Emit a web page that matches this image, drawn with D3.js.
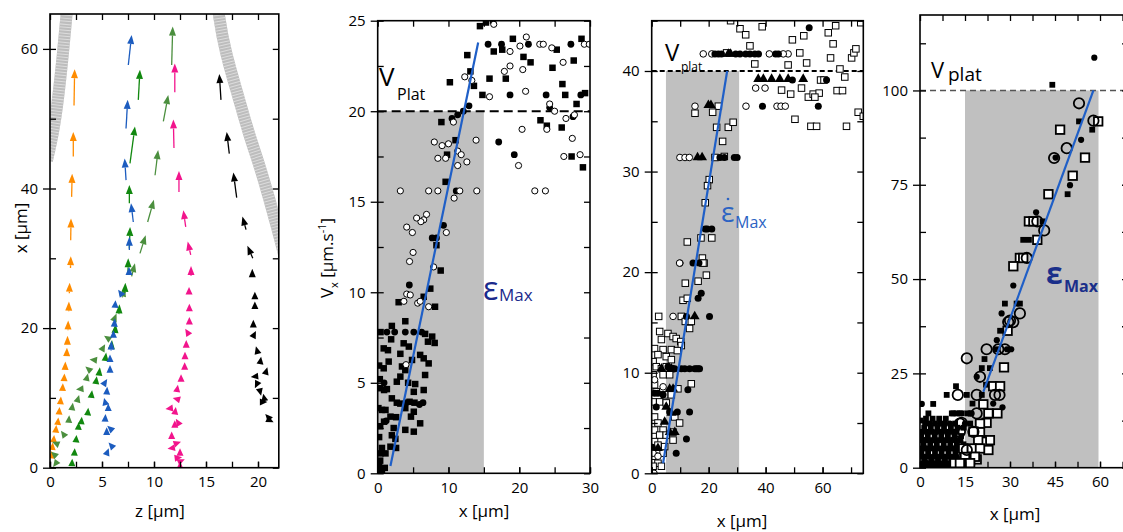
<!DOCTYPE html>
<html><head><meta charset="utf-8">
<script src="https://cdn.jsdelivr.net/npm/d3@7"></script>
<style>
body{margin:0;background:#fff;}
svg{display:block;font-family:"Open Sans",sans-serif;}
.tick text{font-size:15px;fill:#000;font-family:"Open Sans",sans-serif;}
.tick line{stroke:#000;stroke-width:1.3;}
</style></head><body>
<svg id="c" width="1123" height="532"></svg>
<script>
// ---------------- DATA ----------------
// Panel 1: cell trajectories, arrows [z, x, dz, dx]
const orangeArrows = [[2.31,51.9,0.06,5.2],[2.24,44.6,0.0,3.5],[2.08,38.8,0.05,3.3],[1.99,32.6,0.03,3.1],[1.97,28.6,0.03,1.7],[1.86,25.0,0.03,1.5],[1.8,22.4,0.02,1.4],[1.73,19.7,0.02,1.4],[1.67,17.6,0.02,1.3],[1.6,16.0,0.03,1.2],[1.45,14.0,0.03,1.2],[1.35,12.4,0.04,1.1],[1.2,11.0,0.04,1.1],[1.0,9.1,0.05,1.1],[0.87,7.7,0.05,1.0],[0.74,6.2,0.06,1.0],[0.55,5.1,0.06,1.0],[0.35,3.8,0.05,0.9],[0.22,2.7,0.05,0.9],[0.12,1.6,0.05,0.8]];
const darkGreenArrows = [[8.49,52.7,0.16,4.3],[7.69,43.6,0.48,5.3],[7.63,37.9,0.0,2.6],[7.63,31.4,0.07,3.1],[7.5,28.0,0.02,2.0],[7.2,25.0,0.05,1.5],[6.63,22.0,0.05,1.4],[6.25,19.3,0.06,1.3],[5.9,17.0,0.06,1.3],[5.3,15.3,0.1,1.2],[4.7,13.2,0.1,1.2],[4.4,12.0,0.1,1.1],[3.95,10.0,0.1,1.1],[3.62,7.5,0.06,1.1],[3.0,6.3,0.06,1.0],[2.72,5.5,0.05,1.0],[2.5,3.7,0.05,1.0],[2.34,1.8,0.04,1.0],[2.1,0.3,0.04,1.0]];
const lightGreenArrows = [[11.7,57.7,0.1,5.5],[10.9,49.6,0.47,3.8],[10.1,41.9,0.3,3.6],[9.39,35.2,0.6,3.2],[8.65,30.7,0.55,2.6],[7.85,27.4,0.32,1.9],[6.95,24.4,0.26,1.4],[6.1,21.0,0.3,1.1],[5.6,18.5,-0.4,0.4],[5.0,16.9,0.3,0.8],[4.4,15.4,-0.6,0.1],[3.8,14.0,-0.4,0.5],[3.5,12.6,0.15,0.9],[3.2,11.3,-0.7,-0.1],[2.6,9.4,0.2,1.0],[2.1,8.3,0.1,1.0],[1.8,6.5,0.05,1.0],[1.35,4.7,-0.3,0.6],[0.7,3.4,-0.5,0.3],[0.4,1.9,-0.3,0.4],[0.5,0.5,-0.2,-0.4]];
const blueArrows = [[7.53,57.7,0.32,4.3],[7.31,48.6,0.16,4.1],[7.31,41.2,-0.13,3.1],[8.01,35.2,-0.22,2.7],[7.63,31.2,0.0,1.9],[7.6,27.6,0.0,1.2],[6.9,24.8,-0.35,0.7],[6.25,22.9,0.05,1.1],[6.18,20.2,0.05,1.2],[6.1,18.6,0.0,1.1],[5.87,16.8,0.05,1.4],[5.77,15.2,0.0,1.0],[5.77,13.6,0.0,1.1],[5.2,12.0,0.3,0.7],[5.45,10.5,0.05,1.1],[5.3,9.4,-0.1,0.6],[5.6,8.2,0.0,1.0],[5.29,6.6,0.05,1.1],[5.8,5.6,-0.3,0.4],[5.45,4.7,0.0,1.1],[5.93,3.1,-0.3,0.5],[5.45,2.0,0.2,0.8]];
const pinkArrows = [[12.0,53.8,0.0,4.1],[11.92,45.8,-0.06,4.1],[12.4,39.5,0.0,3.0],[13.05,34.5,-0.23,2.4],[13.53,30.5,-0.29,1.9],[13.56,27.5,0.0,1.4],[13.37,24.9,0.0,1.0],[13.4,22.5,0.0,1.0],[13.4,20.6,0.0,1.0],[13.3,19.2,-0.3,0.7],[13.1,17.2,0.0,1.1],[12.98,15.6,0.0,1.0],[12.95,14.2,0.0,0.9],[12.6,12.5,0.0,0.9],[12.2,11.0,0.1,0.9],[12.3,9.8,-0.5,0.2],[11.6,8.5,-0.5,-0.1],[12.0,7.7,0.1,1.0],[12.3,6.5,-0.2,0.5],[12.0,5.9,0.0,0.9],[11.7,4.3,0.0,0.9],[12.2,3.5,0.4,0.2],[11.7,2.8,-0.4,-0.1],[12.5,2.1,0.0,0.7],[12.66,1.0,0.3,0.2],[12.5,0.2,0.0,0.7],[12.2,1.4,0.5,0.1]];
const blackArrows = [[16.44,52.7,-0.16,3.7],[17.24,45.0,-0.25,3.1],[17.95,38.7,-0.32,3.6],[18.85,34.1,-0.35,1.9],[19.5,30.0,-0.52,1.8],[19.45,27.3,0.0,1.2],[19.7,24.2,0.0,1.0],[19.7,22.8,0.0,1.0],[19.55,20.1,0.0,1.1],[19.6,19.0,0.2,0.6],[20.0,16.3,-0.2,1.1],[20.2,14.9,0.1,1.0],[20.7,13.4,0.2,1.0],[19.9,13.1,-0.6,-0.1],[19.9,12.0,-0.2,-0.6],[20.2,10.9,0.1,-0.6],[20.6,9.9,-0.1,0.7],[20.4,9.4,0.5,0.0],[21.0,7.2,-0.3,0.5],[21.1,6.8,0.4,-0.3]];
// gray channel walls [z, x]
const leftWall = [[1.7,67],[1.6,65],[1.28,59.8],[0.78,52.7],[0.3,47.9],[-0.3,44]];
const rightWall = [[16.1,67],[16.2,65],[16.8,59.8],[18.2,52.7],[19.1,47.9],[20.2,43.1],[21.1,38.4],[21.9,34.1],[22.6,30]];
const p1XTicks = [0,5,10,15,20];
const p1YTicks = [0,20,40,60];

// Panel 2
const p2FilledSq = [[14.45,24.7],[15.3,24.9],[16.3,25.0],[19.1,24.0],[12.66,23.1],[13.1,22.2],[10.2,21.6],[13.6,21.4],[14.8,20.9],[15.8,21.8],[18.1,21.8],[16.4,23.3],[17.6,23.4],[20.6,23.0],[21.6,22.7],[24.7,22.4],[25.3,23.4],[27.7,22.8],[26.1,21.5],[26.5,20.9],[28.1,20.4],[28.8,24.0],[29.3,21.0],[23.0,19.5],[23.9,19.2],[26.0,19.1],[27.4,17.5],[29.0,16.9],[9.0,19.4],[9.8,17.6],[11.0,18.4],[9.6,16.1],[8.3,12.6],
 [7.43,10.2],[2.96,9.45],[6.5,9.75],[8.1,9.2],[8.9,11.2],[2.0,8.14],[3.9,8.4],[6.7,7.7],[7.7,7.55],[7.1,7.27],[8.05,7.2],[0.85,6.9],[1.45,6.8],[3.67,7.18],[4.4,7.0],[6.0,6.54],[6.5,6.35],[7.2,6.07],[4.85,6.26],[1.55,6.17],[3.43,5.9],[3.9,5.7],[0.85,5.8],[6.7,5.43],[3.2,5.34],[2.7,5.06],[5.3,4.93],[6.5,4.6],[5.1,4.5],[0.37,4.7],[0.9,4.6],[1.3,4.65],[2.0,4.14],[2.7,3.9],[3.2,3.85],[4.5,3.95],[5.2,3.9],[0.1,3.6],[0.6,3.5],[1.1,3.5],[3.9,3.6],[5.1,3.4],[1.8,3.13],[2.6,3.1],[4.7,3.13],[6.0,2.76],[0.9,2.85],[0.35,2.6],[2.26,2.5],[3.9,2.4],[5.1,2.3],[2.0,2.1],[2.5,1.9],[1.8,1.47],[0.6,1.4],[2.6,1.4],[0.4,1.1],[1.1,1.1],[0.35,0.7],[0.6,0.1],[0.2,0.4],[1.0,0.3],[0.2,2.0],[0.3,5.2],[0.2,5.95],[4.3,5.0],[3.2,6.6],[1.9,7.4],[0.4,7.8]];
const p2FilledCirc = [[12.9,20.3],[12.1,20.0],[10.5,19.6],[11.3,19.8],[15.6,23.7],[17.5,23.7],[21.3,23.7],[27.3,23.7],[18.7,20.9],[23.8,20.9],[28.7,20.9],[24.3,20.2],[17.1,18.3],[19.3,17.6],[27.6,19.7],[11.1,15.6],[9.3,13.7],[7.7,13.0],[8.3,13.0],[4.47,10.4],[1.3,7.8],[2.4,7.8],[3.9,7.8],[5.1,7.8],[6.2,7.8],[5.9,3.8],[6.4,3.9],[0.9,5.0],[1.2,2.9],[4.0,3.9]];
const p2OpenCirc = [[16.4,24.8],[21.0,24.1],[20.1,23.6],[18.7,23.3],[22.9,23.7],[23.4,23.7],[24.6,23.5],[26.2,22.7],[29.2,23.7],[17.9,22.2],[18.7,22.5],[20.5,22.3],[20.9,21.1],[15.8,20.8],[13.3,21.7],[12.3,21.9],[24.3,20.4],[25.0,20.0],[26.6,19.6],[27.8,19.8],[20.4,19.0],[23.9,19.0],[27.5,18.5],[26.3,17.5],[28.6,17.6],[19.9,17.0],[22.2,15.6],[23.7,15.6],[13.9,18.4],[11.3,17.8],[11.8,17.6],[12.6,17.2],[11.3,17.0],[8.0,18.3],[9.1,18.1],[10.0,18.2],[8.5,17.4],[9.6,17.4],[3.2,15.6],[7.2,15.6],[8.5,15.6],[11.6,15.6],[14.0,15.6],[10.8,15.2],[6.9,14.3],[6.5,14.0],[6.1,13.9],[5.5,14.1],[4.1,13.6],[4.9,13.3],[9.7,13.3],[4.5,11.7],[5.0,12.2],[10.7,19.4],[4.1,9.9],[4.6,9.85],[3.7,9.5],[5.65,9.4],[6.0,9.5],[7.2,9.2],[4.0,6.0],[29.9,23.7],[7.9,11.4]];
const p2Fit = [[1.8,0.4],[14.2,23.8]];
const p2XTicks = [0,10,20,30];
const p2YTicks = [0,5,10,15,20,25];

// Panel 3
const p3OpenSq = [[27.7,45.0],[31.0,44.2],[33.0,43.6],[34.5,42.5],[38.8,44.4],[36.2,40.7],[47.9,40.6],[49.4,43.1],[53.4,43.5],[54.4,40.8],[52.0,41.8],[62.8,41.3],[63.7,42.7],[62.0,43.8],[64.6,44.5],[66.1,40.2],[67.8,39.4],[70.2,41.3],[71.0,41.8],[71.7,42.2],[73.4,44.8],[72.5,35.9],[74.3,35.5],[45.6,38.1],[48.8,37.7],[52.6,38.3],[55.0,37.4],[56.7,37.7],[58.8,37.8],[57.3,37.4],[59.3,39.1],[60.5,39.1],[65.1,38.05],[67.0,38.05],[50.3,35.2],[55.9,34.5],[57.9,34.5],[68.4,34.5],[26.3,41.8],[23.4,36.5],[21.4,35.9],[22.8,34.4],[26.9,34.4],[28.6,34.9],[24.9,33.0],[25.5,31.5],[22.2,31.4],[20.2,29.2],[19.6,28.6],[18.8,26.9],[21.1,23.4],[17.3,23.4],[12.5,23.0],[17.8,21.4],[18.4,20.9],[15.2,35.8],
 [18.0,20.9],[19.2,19.7],[16.3,19.1],[11.8,18.9],[11.0,17.2],[12.5,17.4],[2.45,15.6],[10.4,15.6],[11.8,15.1],[13.9,15.1],[13.3,14.4],[2.8,14.1],[5.7,13.9],[7.5,13.6],[8.6,13.4],[3.4,13.3],[10.2,13.1],[1.0,12.4],[4.0,12.3],[10.4,12.7],[6.9,12.3],[9.0,12.2],[2.2,11.8],[5.1,11.6],[6.9,11.3],[0.5,11.1],[1.6,10.6],[3.4,10.4],[5.1,10.6],[6.7,10.4],[0.5,9.8],[4.0,9.8],[6.3,9.8],[1.0,8.8],[13.9,8.9],[9.2,8.4],[1.6,8.1],[4.55,7.8],[6.9,7.8],[0.5,7.1],[2.8,7.1],[5.1,7.0],[8.1,5.6],[1.0,5.6],[2.2,5.0],[9.8,5.0],[1.0,4.3],[4.0,4.3],[7.5,4.1],[2.8,3.8],[5.1,3.8],[1.0,3.15],[7.5,3.3],[2.2,2.8],[4.55,2.65],[1.0,1.7],[4.0,2.0],[2.2,1.0],[0.5,0.7],[3.4,0.7]];
const p3OpenCirc = [[18.1,41.7],[21.1,41.7],[41.3,41.7],[47.9,41.7],[46.2,41.7],[36.5,38.3],[39.8,38.3],[33.1,36.5],[44.0,36.5],[45.4,36.5],[46.9,36.5],[15.2,36.5],[9.9,31.4],[11.7,31.4],[13.2,31.4],[9.9,20.9],[9.8,20.9],[7.5,15.6],[4.0,8.6],[1.0,9.3],[0.5,2.0],[2.2,1.7],[0.8,0.0]];
const p3FilledCirc = [[55.3,44.3],[22.2,41.7],[23.4,41.7],[24.5,41.7],[29.5,41.7],[31.0,41.7],[33.0,41.7],[34.5,41.7],[36.2,41.7],[37.5,41.7],[43.5,41.7],[44.5,41.7],[49.4,39.1],[61.4,39.1],[38.9,36.5],[58.5,36.5],[23.96,31.4],[25.5,31.4],[29.0,31.4],[30.0,31.4],[18.8,24.3],[21.1,24.3],[19.5,24.3],[16.6,20.9],
 [14.5,20.9],[17.4,17.9],[16.3,17.4],[20.3,15.6],[12.2,15.6],[12.7,8.3],[9.0,6.1],[13.3,6.1],[6.3,6.1],[1.6,6.6],[12.2,3.4],[8.6,2.0],[1.0,7.95],[8.1,10.4],[10.4,10.4],[11.6,10.4],[13.3,10.4],[15.1,10.4],[15.7,10.4],[16.3,10.4],[16.8,10.4],[5.7,10.6],[2.2,7.95],[4.0,7.8],[0.2,2.6]];
const p3Tri = [[37.4,39.2],[39.2,39.2],[42.1,39.2],[45.0,39.2],[47.9,39.2],[53.2,39.2],[19.9,36.6],[20.8,36.6],[16.1,31.4],[17.7,31.4],[26.9,41.7],[27.7,41.7],
 [15.1,15.6],[3.4,10.4],[6.9,10.4],[6.3,8.4],[7.5,8.4],[6.9,6.0],[4.55,5.1],[8.1,4.1],[6.3,4.1],[2.2,2.5],[5.1,6.6]];
const p3Fit = [[4.0,1.0],[26.5,40]];
const p3XTicks = [0,20,40,60];
const p3YTicks = [0,10,20,30,40];

// Panel 4
const p4FilledSq = [[44.1,101.5],[53.0,91.8],[57.4,89.6],[49.2,72.5],[40.9,65.3],[34.4,60.4],[36.3,60.4],[28.3,43.5],[32.2,43.5],[33.3,43.5],[26.7,36.3],[20.6,26.4],[23.3,26.4],[12.0,21.6],[8.9,19.3],[15.6,19.3],[20.6,19.3],[4.4,16.9],[2.8,14.4],[11.1,14.4],[13.3,14.4],[15.8,14.4],[21.5,28.8],[25.5,31.4],[22.0,22.0],[17.5,17.0],
 [10.6,14.4],[12.2,14.4],[13.9,14.4],[1.7,11.7],[5.0,11.7],[8.3,11.7],[11.7,11.7],[16.7,11.7],[0.6,9.5],[3.9,9.5],[7.2,9.5],[10.6,9.5],[12.2,9.5],[0.3,7.3],[3.0,7.3],[6.0,7.3],[9.0,7.3],[12.0,7.3],[13.5,7.3],[0.5,5.1],[3.5,5.1],[6.5,5.1],[9.5,5.1],[12.5,5.1],[1.8,2.9],[4.8,2.9],[7.8,2.9],[10.8,2.9],[1.0,1.2],[4.0,1.2],[7.0,1.2],[10.0,1.2],[3.0,0.3],[8.0,0.3],[0.2,12.5],
 [0.8,0.6],[2.3,0.6],[4.5,0.6],[6.8,0.6],[9.2,0.6],[11.5,0.6],[1.5,2.0],[3.8,2.0],[6.0,2.0],[8.3,2.0],[10.5,2.0],[12.8,2.0],[0.5,4.0],[2.7,4.0],[5.0,4.0],[7.2,4.0],[9.5,4.0],[11.8,4.0],[14.0,4.0],[1.2,6.2],[3.4,6.2],[5.6,6.2],[7.9,6.2],[10.1,6.2],[12.3,6.2],[14.5,6.2],[0.4,8.4],[2.6,8.4],[4.9,8.4],[7.1,8.4],[9.3,8.4],[11.5,8.4],[13.7,8.4],[1.4,10.6],[3.6,10.6],[5.8,10.6],[8.0,10.6],[10.3,10.6],[12.5,10.6],[14.6,10.6],[2.0,13.0],[4.2,13.0],[6.4,13.0],[8.6,13.0]];
const p4FilledCirc = [[58.1,108.7],[53.7,86.9],[45.2,82.2],[50.0,74.9],[38.7,67.7],[31.1,48.3],[27.2,40.9],[25.6,33.8],[18.9,24.1],[0.6,16.9],[16.5,14.4],[17.2,14.4],[30.4,31.4],[27.5,16.0],[24.4,17.0],[29.0,31.4],
 [3.3,11.7],[6.7,11.7],[10.0,11.7],[15.0,11.7],[2.2,9.5],[5.6,9.5],[8.9,9.5],[1.5,7.3],[4.5,7.3],[7.5,7.3],[10.5,7.3],[2.0,5.1],[5.0,5.1],[8.0,5.1],[11.0,5.1],[0.3,2.9],[3.3,2.9],[6.3,2.9],[9.3,2.9],[12.3,2.9],[2.5,1.2],[5.5,1.2],[8.5,1.2],[1.0,0.3],[6.0,0.3]];
const p4OpenCirc = [[53.0,96.6],[57.8,92.0],[48.9,84.7],[44.7,82.1],[39.1,65.3],[41.4,62.9],[35.6,55.6],[33.3,40.9],[29.4,38.6],[31.1,38.6],[22.2,31.4],[26.1,31.4],[28.3,31.4],[15.6,29.0],[20.0,24.1],[12.6,19.3],[18.9,19.3],[25.0,19.3],[18.9,14.4],[13.9,11.9],[17.8,9.5],[13.3,9.5],[15.6,4.7],[26.5,19.3],[30.0,39.0],[13.3,11.7]];
const p4OpenSq = [[59.4,91.8],[46.7,89.6],[55.0,82.2],[50.9,77.4],[42.8,72.5],[36.3,65.3],[37.8,65.3],[39.1,60.4],[33.3,55.6],[34.4,55.6],[31.1,53.4],[29.2,36.3],[28.0,26.6],[24.4,21.6],[26.7,21.6],[21.1,16.8],[22.8,14.4],[25.8,14.4],[22.2,11.9],[20.0,9.5],[23.3,7.3],[20.6,6.9],[22.8,4.7],[18.9,2.2],[16.7,2.0],[20.0,11.7],[19.4,7.3],[17.2,5.1],[20.0,5.1],[18.3,2.9],[15.0,2.9],[11.5,1.2],[13.3,1.2],[16.7,1.2],[14.4,5.1],[17.8,9.6]];
const p4Fit = [[21.1,20.1],[57.8,100]];
const p4XTicks = [0,15,30,45,60];
const p4YTicks = [0,25,50,75,100];

// ---------------- DRAWING ----------------
const svg = d3.select("#c");

function makePanel(id, l, r, t, b, xd, yd){
  const x = d3.scaleLinear().domain(xd).range([l, r]);
  const y = d3.scaleLinear().domain(yd).range([b, t]);
  svg.append("clipPath").attr("id","clip"+id).append("rect")
     .attr("x",l).attr("y",t).attr("width",r-l).attr("height",b-t);
  const g = svg.append("g");
  const plot = g.append("g").attr("clip-path",`url(#clip${id})`);
  return {id,l,r,t,b,x,y,g,plot};
}

function drawAxes(p, xMajor, xAll, yMajor, yAll){
  const {g,x,y,l,r,t,b} = p;
  const clean = s => s.select(".domain").remove();
  g.append("g").attr("transform",`translate(0,${b})`)
    .call(d3.axisBottom(x).tickValues(xMajor).tickSize(-6).tickPadding(9).tickFormat(d3.format("d"))).call(clean);
  g.append("g").attr("transform",`translate(0,${b})`)
    .call(d3.axisBottom(x).tickValues(xAll).tickSize(-6).tickFormat("")).call(clean);
  g.append("g").attr("transform",`translate(0,${t})`)
    .call(d3.axisTop(x).tickValues(xAll).tickSize(-6).tickFormat("")).call(clean);
  g.append("g").attr("transform",`translate(${l},0)`)
    .call(d3.axisLeft(y).tickValues(yMajor).tickSize(7).tickPadding(5).tickFormat(d3.format("d"))).call(clean);
  g.append("g").attr("transform",`translate(${l},0)`)
    .call(d3.axisLeft(y).tickValues(yAll).tickSize(-6).tickFormat("")).call(clean);
  g.append("g").attr("transform",`translate(${r},0)`)
    .call(d3.axisRight(y).tickValues(yAll).tickSize(-6).tickFormat("")).call(clean);
  g.append("rect").attr("x",l).attr("y",t).attr("width",r-l).attr("height",b-t)
    .attr("fill","none").attr("stroke","#000").attr("stroke-width",1.6);
}

const range = (a,bb,s) => d3.range(a, bb+1e-9, s);

// ---- Panel 1 ----
const p1 = makePanel(1, 50, 278.8, 14, 467.7, [0,22], [0,65]);
const wallLine = d3.line().x(d=>p1.x(d[0])).y(d=>p1.y(d[1])).curve(d3.curveBasis);
[leftWall, rightWall].forEach(w=>{
  p1.plot.append("path").attr("d",wallLine(w)).attr("fill","none")
    .attr("stroke","#bdbdbd").attr("stroke-width",12);
  p1.plot.append("path").attr("d",wallLine(w)).attr("fill","none")
    .attr("stroke","#dcdcdc").attr("stroke-width",12).attr("stroke-dasharray","1,2");
});
function drawArrows(data, color){
  const gg = p1.plot.append("g");
  data.forEach(a=>{
    const x1=p1.x(a[0]), y1=p1.y(a[1]), x2=p1.x(a[0]+a[2]), y2=p1.y(a[1]+a[3]);
    const L=Math.hypot(x2-x1,y2-y1)||1, ux=(x2-x1)/L, uy=(y2-y1)/L;
    const h=Math.max(7.5,Math.min(9,L)), w=3.5;
    const bx=x2-ux*h, by=y2-uy*h;
    if(L>h) gg.append("line").attr("x1",x1).attr("y1",y1).attr("x2",bx).attr("y2",by)
      .attr("stroke",color).attr("stroke-width",1.3);
    gg.append("path").attr("d",`M${x2},${y2}L${bx-uy*w},${by+ux*w}L${bx+uy*w},${by-ux*w}Z`).attr("fill",color);
  });
}
drawArrows(orangeArrows,"#ff8c00");
drawArrows(lightGreenArrows,"#4b8f3e");
drawArrows(darkGreenArrows,"#11880f");
drawArrows(blueArrows,"#1c5cbf");
drawArrows(pinkArrows,"#f2148c");
drawArrows(blackArrows,"#000");
drawAxes(p1, p1XTicks, range(0,22,2.5), p1YTicks, range(0,60,10));
svg.append("text").attr("x",160).attr("y",517).attr("text-anchor","middle").attr("font-size",17).text("z [µm]");
svg.append("text").attr("transform","translate(27,228) rotate(-90)").attr("text-anchor","middle").attr("font-size",17).text("x [µm]");

// ---- marker helpers ----
function sq(p, data, s, fill, sw){
  p.plot.append("g").selectAll("rect").data(data).join("rect")
    .attr("x",d=>p.x(d[0])-s/2).attr("y",d=>p.y(d[1])-s/2).attr("width",s).attr("height",s)
    .attr("fill",fill).attr("stroke","#000").attr("stroke-width",sw);
}
function circ(p, data, rr, fill, sw){
  p.plot.append("g").selectAll("circle").data(data).join("circle")
    .attr("cx",d=>p.x(d[0])).attr("cy",d=>p.y(d[1])).attr("r",rr)
    .attr("fill",fill).attr("stroke","#000").attr("stroke-width",sw);
}
function tri(p, data, size){
  p.plot.append("g").selectAll("path").data(data).join("path")
    .attr("transform",d=>`translate(${p.x(d[0])},${p.y(d[1])})`)
    .attr("d",d3.symbol(d3.symbolTriangle).size(size)).attr("fill","#000");
}
function fitLine(p, d){
  p.plot.append("line").attr("x1",p.x(d[0][0])).attr("y1",p.y(d[0][1]))
    .attr("x2",p.x(d[1][0])).attr("y2",p.y(d[1][1])).attr("stroke","#1f5fc7").attr("stroke-width",2.2);
}
function shade(p, x0, x1, y1){
  p.plot.append("rect").attr("x",p.x(x0)).attr("y",p.y(y1)).attr("width",p.x(x1)-p.x(x0))
    .attr("height",p.y(0)-p.y(y1)).attr("fill","#c0c0c0");
}
function plateau(p, yv, dash, color, sw){
  p.plot.append("line").attr("x1",p.l).attr("x2",p.r).attr("y1",p.y(yv)).attr("y2",p.y(yv))
    .attr("stroke",color).attr("stroke-width",sw).attr("stroke-dasharray",dash);
}

// ---- Panel 2 ----
const p2 = makePanel(2, 377.7, 590, 20.7, 473.3, [0,30], [0,25]);
shade(p2, 0, 15, 20);
plateau(p2, 20, "9,5", "#000", 2);
sq(p2, p2FilledSq, 6.5, "#000", 0);
circ(p2, p2FilledCirc, 3.4, "#000", 0);
circ(p2, p2OpenCirc, 3.1, "#fff", 1);
fitLine(p2, p2Fit);
drawAxes(p2, p2XTicks, range(0,30,5), p2YTicks, range(0,25,2.5));
svg.append("text").attr("x",484).attr("y",517).attr("text-anchor","middle").attr("font-size",17).text("x [µm]");
{
  const t = svg.append("text").attr("transform","translate(333,258) rotate(-90)").attr("text-anchor","middle").attr("font-size",17);
  t.append("tspan").text("V");
  t.append("tspan").attr("font-size",11).attr("dy",5).text("x");
  t.append("tspan").attr("dy",-5).text(" [µm.s");
  t.append("tspan").attr("font-size",11).attr("dy",-7).text("-1");
  t.append("tspan").attr("dy",7).text("]");
}
svg.append("text").attr("x",379).attr("y",86).attr("font-size",26).text("V");
svg.append("text").attr("x",397).attr("y",100).attr("font-size",16).text("Plat");
svg.append("text").attr("x",483).attr("y",300).attr("font-size",32).attr("fill","#1b2a8c").text("ε");
svg.append("text").attr("x",499).attr("y",301).attr("font-size",17).attr("fill","#1b2a8c").text("Max");

// ---- Panel 3 ----
const p3 = makePanel(3, 651.7, 863.3, 20.7, 473.3, [0,74.3], [0,45]);
shade(p3, 5, 30.7, 40);
plateau(p3, 40, "5,3", "#000", 2);
sq(p3, p3OpenSq, 6.5, "#fff", 1);
circ(p3, p3OpenCirc, 3.3, "#fff", 1);
circ(p3, p3FilledCirc, 3.5, "#000", 0);
tri(p3, p3Tri, 42);
fitLine(p3, p3Fit);
drawAxes(p3, p3XTicks, range(0,70,10), p3YTicks, range(0,45,5));
svg.append("text").attr("x",742).attr("y",527).attr("text-anchor","middle").attr("font-size",17).text("x [µm]");
svg.append("text").attr("x",665).attr("y",61).attr("font-size",24).text("V");
svg.append("text").attr("x",681).attr("y",71).attr("font-size",12).text("plat");
svg.append("text").attr("x",721).attr("y",222).attr("font-size",28).attr("fill","#2b63c3").text("ε");
svg.append("circle").attr("cx",728).attr("cy",199).attr("r",1.3).attr("fill","#2b63c3");
svg.append("text").attr("x",735).attr("y",228).attr("font-size",16).attr("fill","#2b63c3").text("Max");

// ---- Panel 4 ----
const p4 = makePanel(4, 920, 1128, 15, 467.7, [0,69.33], [0,120]);
shade(p4, 15, 59.5, 100);
plateau(p4, 100, "6,4", "#555", 1.4);
sq(p4, p4FilledSq, 5.8, "#000", 0);
circ(p4, p4FilledCirc, 3.1, "#000", 0);
sq(p4, p4OpenSq, 8.5, "#fff", 1.8);
circ(p4, p4OpenCirc, 5.2, "none", 1.8);
fitLine(p4, p4Fit);
drawAxes(p4, p4XTicks, range(0,67.5,7.5), p4YTicks, range(0,112.5,12.5));
svg.append("text").attr("x",1015).attr("y",520).attr("text-anchor","middle").attr("font-size",17).text("x [µm]");
svg.append("text").attr("x",931).attr("y",78).attr("font-size",22).text("V");
svg.append("text").attr("x",948).attr("y",81).attr("font-size",19).text("plat");
svg.append("text").attr("x",1046).attr("y",284).attr("font-size",30).attr("font-weight","bold").attr("fill","#1a2f8a").text("ε");
svg.append("text").attr("x",1064).attr("y",292).attr("font-size",16).attr("font-weight","bold").attr("fill","#1a2f8a").text("Max");
</script>
</body></html>
